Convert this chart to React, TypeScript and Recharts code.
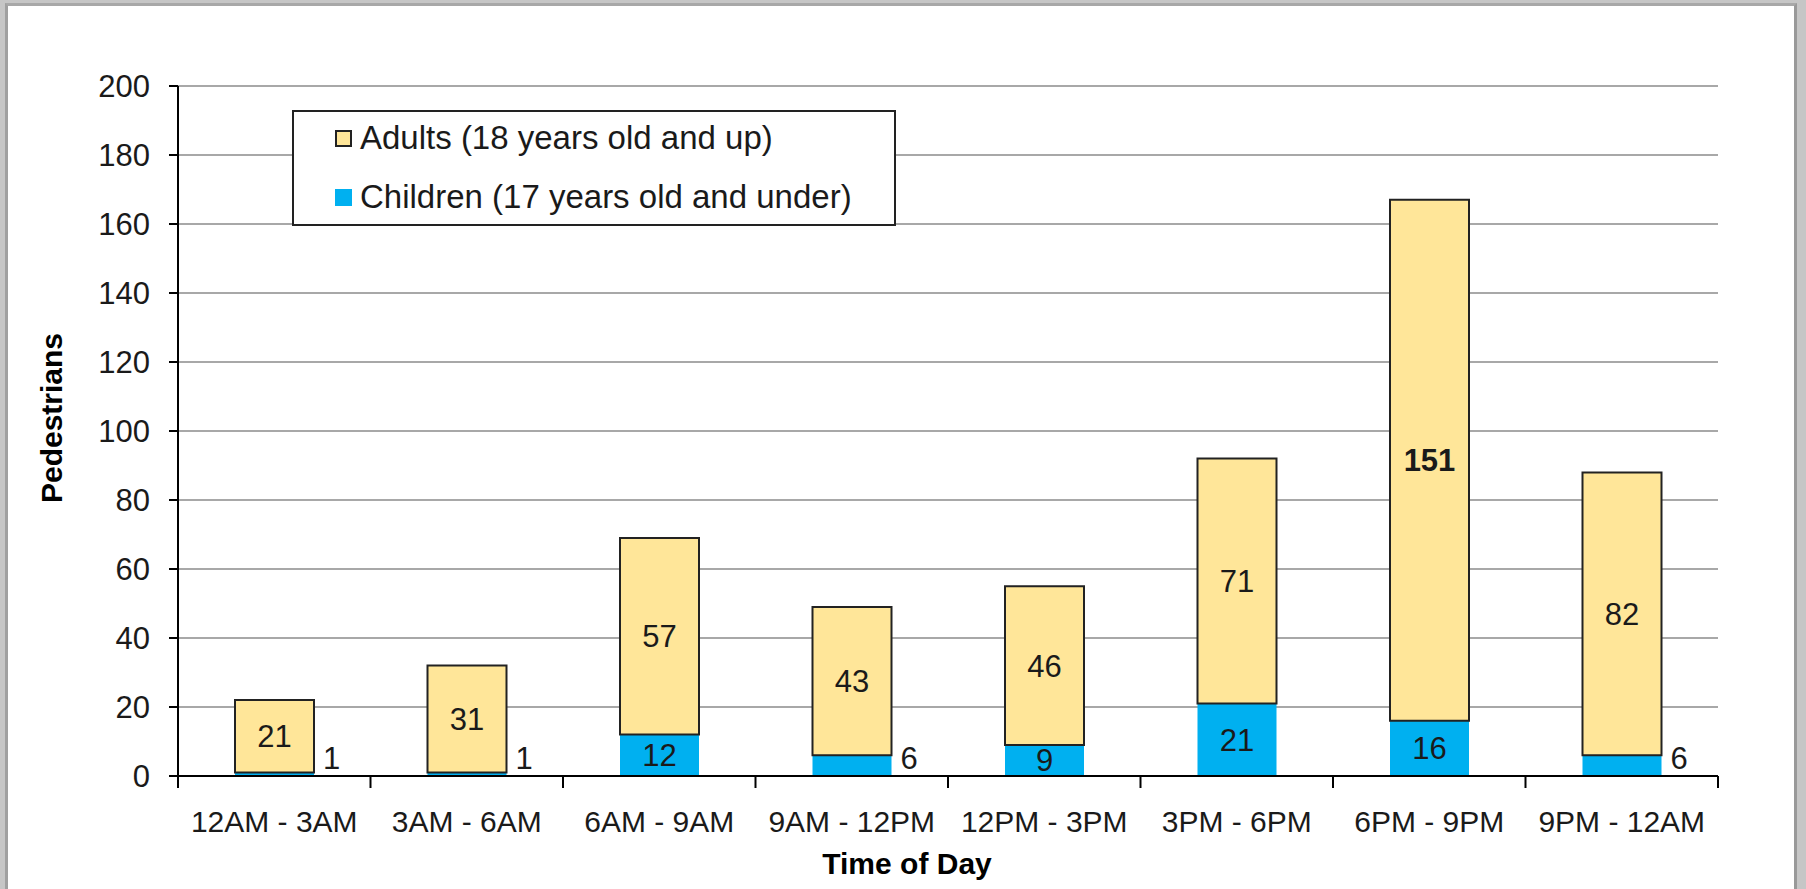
import React from 'react';
import { BarChart, Bar, XAxis, YAxis, CartesianGrid, Legend, LabelList } from 'recharts';

const categories = ['12AM - 3AM', '3AM - 6AM', '6AM - 9AM', '9AM - 12PM', '12PM - 3PM', '3PM - 6PM', '6PM - 9PM', '9PM - 12AM'];
const childrenCounts = [1, 1, 12, 6, 9, 21, 16, 6];
const adultCounts = [21, 31, 57, 43, 46, 71, 151, 82];
const yTicks = [0, 20, 40, 60, 80, 100, 120, 140, 160, 180, 200];

const ADULT_NAME = 'Adults (18 years old and up)';
const CHILD_NAME = 'Children (17 years old and under)';
const ADULT_COLOR = '#FFE699';
const CHILD_COLOR = '#00B0F0';
const FONT = "'Liberation Sans', Arial, sans-serif";

const data = categories.map((c, i) => ({ period: c, children: childrenCounts[i], adults: adultCounts[i] }));
const maxAdult = Math.max(...adultCounts);

const ChildLabel = (props: any) => {
  const { x, y, width, height, value } = props;
  if (value < 8) {
    return (
      <text x={x + width + 9} y={y + height - 7} textAnchor="start" fontSize={31} fontFamily={FONT} fill="#1a1a1a">
        {value}
      </text>
    );
  }
  return (
    <text x={x + width / 2} y={y + height / 2 + 11} textAnchor="middle" fontSize={31} fontFamily={FONT} fill="#1a1a1a">
      {value}
    </text>
  );
};

const AdultLabel = (props: any) => {
  const { x, y, width, height, value } = props;
  return (
    <text
      x={x + width / 2}
      y={y + height / 2 + 11}
      textAnchor="middle"
      fontSize={31}
      fontWeight={value === maxAdult ? 'bold' : 'normal'}
      fontFamily={FONT}
      fill="#1a1a1a"
    >
      {value}
    </text>
  );
};

const XTick = (props: any) => {
  const { x, y, payload, index, width } = props;
  const half = payload && typeof payload.offset === 'number' && payload.offset > 0 ? payload.offset : width / categories.length / 2;
  const last = index === categories.length - 1;
  return (
    <g>
      <line x1={x - half} y1={y} x2={x - half} y2={y + 12} stroke="#000" strokeWidth={2} />
      {last && <line x1={x + half} y1={y} x2={x + half} y2={y + 12} stroke="#000" strokeWidth={2} />}
      <text x={x} y={y + 56} textAnchor="middle" fontSize={30} fontFamily={FONT} fill="#1a1a1a">
        {payload.value}
      </text>
    </g>
  );
};

const YLabel = (props: any) => {
  const { viewBox } = props;
  const bx = viewBox.x + 42;
  const cy = viewBox.y + viewBox.height / 2 - 13;
  return (
    <text
      transform={`translate(${bx}, ${cy}) rotate(-90)`}
      x={0}
      y={0}
      textAnchor="middle"
      fontSize={30}
      fontWeight="bold"
      fontFamily={FONT}
      fill="#000"
    >
      Pedestrians
    </text>
  );
};

const XLabel = (props: any) => {
  const { viewBox } = props;
  return (
    <text
      x={viewBox.x + viewBox.width / 2 - 41}
      y={viewBox.y + 98}
      textAnchor="middle"
      fontSize={30}
      fontWeight="bold"
      fontFamily={FONT}
      fill="#000"
    >
      Time of Day
    </text>
  );
};

const legendOrder = [ADULT_NAME, CHILD_NAME];

const LegendBox = (props: any) => {
  const payload = (props.payload || [])
    .slice()
    .sort((a: any, b: any) => legendOrder.indexOf(a.value) - legendOrder.indexOf(b.value));
  return (
    <div
      style={{
        width: 604,
        height: 116,
        boxSizing: 'border-box',
        border: '2px solid #222',
        background: '#fff',
        fontFamily: FONT,
        fontSize: 33,
        color: '#1a1a1a',
        position: 'relative',
      }}
    >
      {payload.map((entry: any, i: number) => {
        const isAdult = entry.value === ADULT_NAME;
        return (
          <div
            key={entry.value}
            style={{
              position: 'absolute',
              left: 41,
              top: (i === 0 ? 26 : 85) - 20,
              height: 40,
              display: 'flex',
              alignItems: 'center',
              whiteSpace: 'nowrap',
            }}
          >
            <span
              style={{
                display: 'inline-block',
                width: 17,
                height: 17,
                boxSizing: 'border-box',
                background: isAdult ? ADULT_COLOR : CHILD_COLOR,
                border: isAdult ? '2px solid #222' : 'none',
                marginRight: 8,
              }}
            />
            <span>{entry.value}</span>
          </div>
        );
      })}
    </div>
  );
};

export default function App() {
  return (
    <div style={{ position: 'absolute', left: 0, top: 0, width: 1806, height: 889, background: '#c6c6c6', overflow: 'hidden' }}>
      <div
        style={{
          position: 'absolute',
          left: 5,
          top: 3,
          width: 1792,
          height: 900,
          boxSizing: 'border-box',
          background: '#fff',
          borderLeft: '3px solid #a0a0a0',
          borderTop: '3px solid #a8a8a8',
          borderRight: '3px solid #999',
        }}
      />
      <div style={{ position: 'absolute', left: 0, top: 0 }}>
        <BarChart
          width={1806}
          height={889}
          data={data}
          margin={{ top: 86, right: 88, bottom: 0, left: 20 }}
          barSize={79}
        >
          <CartesianGrid vertical={false} stroke="#a8a8a8" strokeWidth={2} />
          <XAxis
            dataKey="period"
            type="category"
            height={113}
            tickSize={0}
            tickMargin={0}
            tickLine={false}
            axisLine={{ stroke: '#000', strokeWidth: 2 }}
            tick={<XTick />}
            interval={0}
            label={<XLabel />}
          />
          <YAxis
            domain={[0, 200]}
            ticks={yTicks}
            width={158}
            tickSize={9}
            tickMargin={19}
            interval={0}
            axisLine={{ stroke: '#000', strokeWidth: 2 }}
            tickLine={{ stroke: '#000', strokeWidth: 2 }}
            tick={{ fontSize: 31, fontFamily: FONT, fill: '#1a1a1a' }}
            label={<YLabel />}
          />
          <Legend
            layout="vertical"
            align="center"
            verticalAlign="middle"
            wrapperStyle={{ left: 292, top: 110, width: 604, height: 116 }}
            content={<LegendBox />}
          />
          <Bar dataKey="children" name={CHILD_NAME} stackId="a" fill={CHILD_COLOR} isAnimationActive={false}>
            <LabelList dataKey="children" content={<ChildLabel />} />
          </Bar>
          <Bar dataKey="adults" name={ADULT_NAME} stackId="a" fill={ADULT_COLOR} stroke="#222" strokeWidth={2} isAnimationActive={false}>
            <LabelList dataKey="adults" content={<AdultLabel />} />
          </Bar>
        </BarChart>
      </div>
    </div>
  );
}
